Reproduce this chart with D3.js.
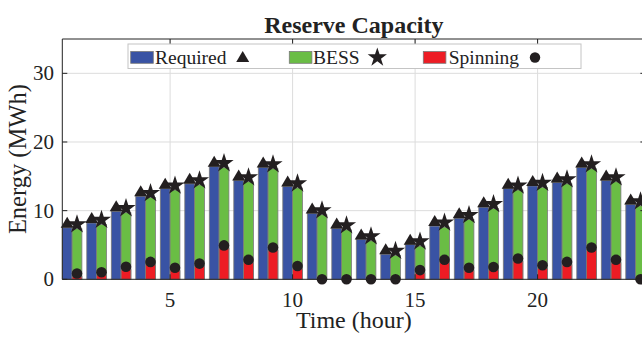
<!DOCTYPE html>
<html>
<head>
<meta charset="utf-8">
<script src="https://cdn.jsdelivr.net/npm/d3@7"></script>
<style>
  html, body { margin: 0; padding: 0; background: #fff; }
  svg { display: block; }
  text { font-family: "Liberation Serif", "Times New Roman", serif; fill: #222; }
</style>
</head>
<body>
<svg id="chart" width="642" height="337"></svg>
<script>
// Hourly reserve capacity (MWh)
const hours = d3.range(1, 25);
const required = [7.5, 8.2, 9.9, 12.1, 13.2, 13.9, 16.4, 14.4, 16.3, 13.5, 9.6, 7.4,
                  5.8, 3.65, 5.05, 7.75, 8.9, 10.5, 13.2, 13.6, 14.1, 16.3, 14.4, 10.9];
const bess     = [7.35, 8.0, 9.7, 11.9, 13.0, 13.75, 16.25, 14.2, 16.1, 13.3, 9.4, 7.2,
                  5.6, 3.5, 4.85, 7.6, 8.7, 10.3, 13.0, 13.4, 13.9, 16.1, 14.2, 10.7];
const spinning = [0.4, 0.6, 1.4, 2.1, 1.25, 1.85, 4.5, 2.4, 4.2, 1.5, 0, 0,
                  0, 0, 0.9, 2.4, 1.25, 1.35, 2.6, 1.6, 2.1, 4.2, 2.4, 0];
const xTicks = [5, 10, 15, 20];
const yTicks = [0, 10, 20, 30];
const seriesNames = ["Required", "BESS", "Spinning"];

const colors = { req: "#3953a4", bess: "#6abd45", spin: "#ed1c24", mark: "#231f20", edge: "#7a7a7a" };

const svg = d3.select("#chart");
const pLeft = 62.3, pRight = 645.4, pTop = 39, pBottom = 279.3;

const x = d3.scaleLinear().domain([0.6, 24.4]).range([pLeft, pRight]);
const y = d3.scaleLinear().domain([0, 35]).range([pBottom, pTop]);
const barW = 0.4; // bar width in hours; Required left of the hour, BESS/Spinning right

// grid
const grid = svg.append("g");
grid.selectAll(".gx").data(xTicks).join("line")
  .attr("x1", d => x(d)).attr("x2", d => x(d)).attr("y1", pTop).attr("y2", pBottom)
  .attr("stroke", "#dcdcdc").attr("stroke-width", 1);
grid.selectAll(".gy").data(yTicks.filter(d => d > 0)).join("line")
  .attr("x1", pLeft).attr("x2", pRight).attr("y1", d => y(d)).attr("y2", d => y(d))
  .attr("stroke", "#dcdcdc").attr("stroke-width", 1);

// bars
const bars = svg.append("g").attr("stroke", colors.edge).attr("stroke-width", 0.8);
bars.selectAll(".req").data(hours).join("rect")
  .attr("x", h => x(h - barW)).attr("width", h => x(h) - x(h - barW))
  .attr("y", (h, i) => y(required[i])).attr("height", (h, i) => y(0) - y(required[i]))
  .attr("fill", colors.req);
bars.selectAll(".bess").data(hours).join("rect")
  .attr("x", h => x(h)).attr("width", h => x(h + barW) - x(h))
  .attr("y", (h, i) => y(bess[i])).attr("height", (h, i) => y(0) - y(bess[i]))
  .attr("fill", colors.bess);
bars.selectAll(".spin").data(hours.filter((h, i) => spinning[i] > 0)).join("rect")
  .attr("x", h => x(h)).attr("width", h => x(h + barW) - x(h))
  .attr("y", h => y(spinning[h - 1])).attr("height", h => y(0) - y(spinning[h - 1]))
  .attr("fill", colors.spin);

// markers sit on top of each bar
const lift = (v, px) => (v > 0 ? px : 0);
const triPath = (w, hgt) => `M0,${-hgt / 2}L${w / 2},${hgt / 2}L${-w / 2},${hgt / 2}Z`;
const star = d3.symbol(d3.symbolStar, 115);
const marks = svg.append("g").attr("fill", colors.mark);
marks.selectAll(".tri").data(hours).join("path")
  .attr("d", triPath(13, 11))
  .attr("transform", (h, i) => `translate(${x(h - barW / 2)},${y(required[i]) - lift(required[i], 5.5)})`);
marks.selectAll(".star").data(hours).join("path")
  .attr("d", star())
  .attr("transform", (h, i) => `translate(${x(h + barW / 2)},${y(bess[i]) - lift(bess[i], 4.5)})`);
marks.selectAll(".dot").data(hours).join("circle")
  .attr("r", 5.3)
  .attr("cx", h => x(h + barW / 2))
  .attr("cy", (h, i) => y(spinning[i]) - lift(spinning[i], 3));

// axes box with inward ticks
const ax = svg.append("g").attr("stroke", "#222").attr("stroke-width", 1).attr("fill", "none");
ax.append("line").attr("x1", pLeft).attr("x2", pRight).attr("y1", pBottom).attr("y2", pBottom);
ax.append("line").attr("x1", pLeft).attr("x2", pRight).attr("y1", pTop).attr("y2", pTop);
ax.append("line").attr("x1", pLeft).attr("x2", pLeft).attr("y1", pTop).attr("y2", pBottom);
ax.append("line").attr("x1", pRight).attr("x2", pRight).attr("y1", pTop).attr("y2", pBottom);
xTicks.forEach(t => {
  ax.append("line").attr("x1", x(t)).attr("x2", x(t)).attr("y1", pBottom).attr("y2", pBottom - 5);
  ax.append("line").attr("x1", x(t)).attr("x2", x(t)).attr("y1", pTop).attr("y2", pTop + 5);
});
yTicks.forEach(t => {
  ax.append("line").attr("x1", pLeft).attr("x2", pLeft + 5).attr("y1", y(t)).attr("y2", y(t));
  ax.append("line").attr("x1", pRight).attr("x2", pRight - 5).attr("y1", y(t)).attr("y2", y(t));
});

// tick labels
svg.append("g").selectAll("text").data(xTicks).join("text")
  .attr("x", d => x(d)).attr("y", 307).attr("text-anchor", "middle")
  .attr("font-size", 21).text(d => d);
svg.append("g").selectAll("text").data(yTicks).join("text")
  .attr("x", 54).attr("y", d => y(d) + 7).attr("text-anchor", "end")
  .attr("font-size", 21).text(d => d);

// axis titles
svg.append("text").attr("x", (pLeft + pRight) / 2).attr("y", 328).attr("text-anchor", "middle")
  .attr("font-size", 24).text("Time (hour)");
svg.append("text").attr("transform", `translate(26,${(pTop + pBottom) / 2}) rotate(-90)`)
  .attr("text-anchor", "middle").attr("font-size", 24.5).text("Energy (MWh)");
svg.append("text").attr("x", (pLeft + pRight) / 2).attr("y", 33).attr("text-anchor", "middle")
  .attr("font-size", 24).attr("font-weight", "bold").text("Reserve Capacity");

// legend
const lg = svg.append("g");
lg.append("rect").attr("x", 128).attr("y", 44).attr("width", 453).attr("height", 24.5)
  .attr("fill", "#fff").attr("stroke", "#c4c4c4").attr("stroke-width", 1);
const legendItems = [
  { name: seriesNames[0], color: colors.req, px: 130.7, tx: 155, mx: 242.7, mark: "tri" },
  { name: seriesNames[1], color: colors.bess, px: 289.3, tx: 313, mx: 377.3, mark: "star" },
  { name: seriesNames[2], color: colors.spin, px: 423.3, tx: 448.7, mx: 535, mark: "dot" }
];
legendItems.forEach(it => {
  lg.append("rect").attr("x", it.px).attr("y", 51.5).attr("width", 22.6).attr("height", 11.8)
    .attr("fill", it.color).attr("stroke", colors.edge).attr("stroke-width", 0.8);
  lg.append("text").attr("x", it.tx).attr("y", 63.5).attr("font-size", 19.5).text(it.name);
  if (it.mark === "tri") {
    lg.append("path").attr("d", triPath(13, 11)).attr("fill", colors.mark)
      .attr("transform", `translate(${it.mx},56.5)`);
  } else if (it.mark === "star") {
    lg.append("path").attr("d", star()).attr("fill", colors.mark)
      .attr("transform", `translate(${it.mx},57.5)`);
  } else {
    lg.append("circle").attr("cx", it.mx).attr("cy", 57.5).attr("r", 5.2).attr("fill", colors.mark);
  }
});
</script>
</body>
</html>
